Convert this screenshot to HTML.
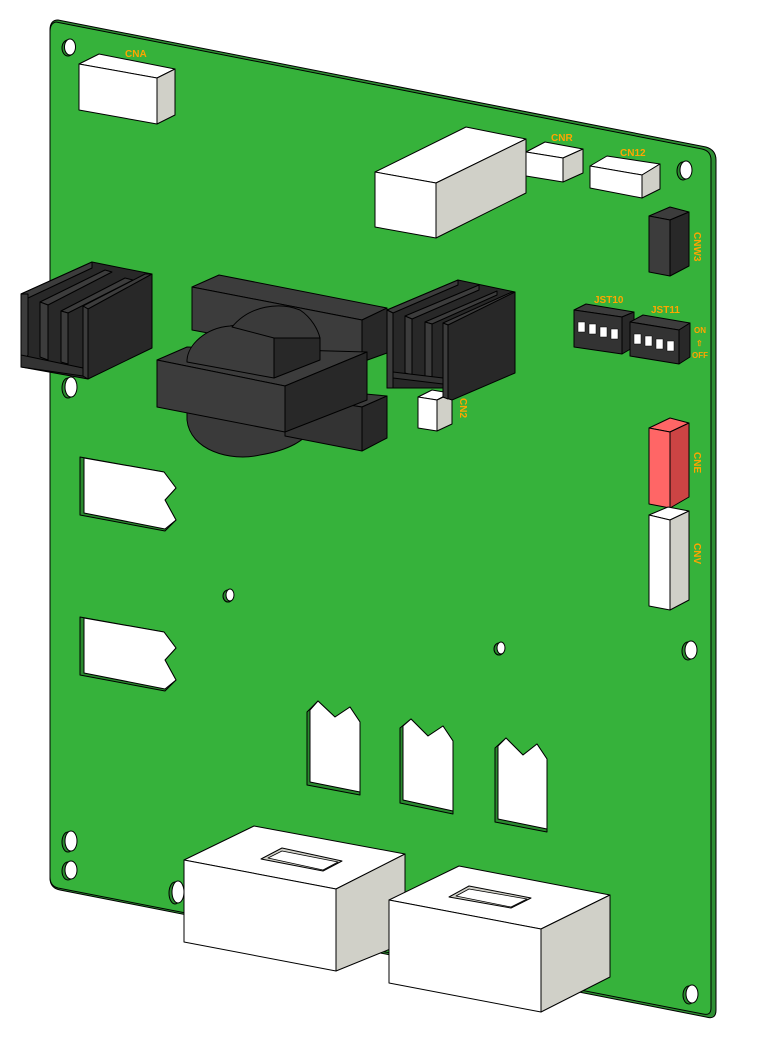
<!DOCTYPE html>
<html><head><meta charset="utf-8"><style>html,body{margin:0;padding:0;background:#fff}svg{display:block}</style></head>
<body>
<svg width="769" height="1045" viewBox="0 0 769 1045" xmlns="http://www.w3.org/2000/svg" stroke="#000" stroke-width="1" stroke-linejoin="round" font-family="Liberation Sans, sans-serif">
<!-- board -->
<path d="M58,20 L706,147 Q716,150 716,160 L716,1010 Q716,1020 706,1017 L60,890 Q50,888 50,878 L50,30 Q50,20 58,20 Z" fill="#2f8f33"/>
<path d="M56,22 L702,149 Q711,151 711,160 L711,1008 Q711,1016 703,1014 L58,888 Q50,886 50,877 L50,32 Q50,23 56,22 Z" fill="#36B23B"/>
<!-- holes -->
<g fill="#fff">
<ellipse cx="68" cy="48" rx="6" ry="8" fill="#2a8a2e"/><ellipse cx="70" cy="47" rx="5.5" ry="8"/>
<ellipse cx="68" cy="388" rx="6" ry="10" fill="#2a8a2e"/><ellipse cx="71" cy="387" rx="6" ry="10"/>
<ellipse cx="683" cy="171" rx="6" ry="9" fill="#2a8a2e"/><ellipse cx="686" cy="170" rx="6" ry="9"/>
<ellipse cx="228" cy="596" rx="5" ry="6" fill="#2a8a2e"/><ellipse cx="230" cy="595" rx="4" ry="6"/>
<ellipse cx="499" cy="649" rx="5" ry="6" fill="#2a8a2e"/><ellipse cx="501" cy="648" rx="4" ry="6"/>
<ellipse cx="688" cy="651" rx="6" ry="9" fill="#2a8a2e"/><ellipse cx="691" cy="650" rx="6" ry="9"/>
<ellipse cx="68" cy="842" rx="6" ry="10" fill="#2a8a2e"/><ellipse cx="71" cy="841" rx="6" ry="10"/>
<ellipse cx="68" cy="871" rx="6" ry="9" fill="#2a8a2e"/><ellipse cx="71" cy="870" rx="6" ry="9"/>
<ellipse cx="175" cy="893" rx="6" ry="11" fill="#2a8a2e"/><ellipse cx="178" cy="892" rx="6" ry="11"/>
<ellipse cx="689" cy="995" rx="6" ry="9" fill="#2a8a2e"/><ellipse cx="692" cy="994" rx="6" ry="9"/>
</g>
<!-- slots -->
<g fill="#fff">
<polygon points="80,457 164,472 176,488 165,500 176,520 165,531 80,515" fill="#2a8a2e"/>
<polygon points="84,458 164,472 176,488 165,500 176,520 165,529 84,513"/>
<polygon points="80,617 164,632 176,648 165,660 176,680 165,691 80,675" fill="#2a8a2e"/>
<polygon points="84,618 164,632 176,648 165,660 176,680 165,689 84,673"/>
<polygon points="307,712 318,701 335,717 350,707 360,722 360,795 307,785" fill="#2a8a2e"/>
<polygon points="310,710 318,701 335,717 350,707 360,722 360,792 310,782"/>
<polygon points="400,728 411,719 428,736 443,726 453,741 453,814 400,803" fill="#2a8a2e"/>
<polygon points="403,726 411,719 428,736 443,726 453,741 453,811 403,800"/>
<polygon points="495,748 506,738 523,755 537,744 547,759 547,832 495,822" fill="#2a8a2e"/>
<polygon points="498,746 506,738 523,755 537,744 547,759 547,829 498,819"/>
</g>
<!-- labels -->
<g fill="#FFA500" stroke="none" font-size="10" font-weight="bold">
<text x="125" y="57">CNA</text>
<text x="551" y="141">CNR</text>
<text x="620" y="156">CN12</text>
<text x="594" y="303">JST10</text>
<text x="651" y="313">JST11</text>
<text x="694" y="333" font-size="8">ON</text>
<text x="696" y="346" font-size="8">⇧</text>
<text x="692" y="358" font-size="8">OFF</text>
<text transform="translate(694,232) rotate(90)">CNW3</text>
<text transform="translate(694,452) rotate(90)">CNE</text>
<text transform="translate(694,543) rotate(90)">CNV</text>
<text transform="translate(460,398) rotate(90)">CN2</text>
</g>
<!-- white boxes -->
<g>
<polygon points="79,64 99,54 175,69 157,78" fill="#fff"/><polygon points="79,64 157,78 157,124 79,110" fill="#fff"/><polygon points="157,78 175,69 175,115 157,124" fill="#D0D0C8"/>
<polygon points="375,172 466,127 526,139 436,183" fill="#fff"/><polygon points="375,172 436,183 436,238 375,227" fill="#fff"/><polygon points="436,183 526,139 526,193 436,238" fill="#D0D0C8"/>
<polygon points="526,152 545,142 583,149 563,158" fill="#fff"/><polygon points="526,152 563,158 563,182 526,176" fill="#fff"/><polygon points="563,158 583,149 583,173 563,182" fill="#D0D0C8"/>
<polygon points="590,166 607,156 660,164 642,175" fill="#fff"/><polygon points="590,166 642,175 642,198 590,188" fill="#fff"/><polygon points="642,175 660,164 660,189 642,198" fill="#D0D0C8"/>
<polygon points="649,216 670,207 689,212 670,220" fill="#3c3c3c"/><polygon points="649,216 670,220 670,276 649,272" fill="#3c3c3c"/><polygon points="670,220 689,212 689,266 670,276" fill="#282828"/>
<polygon points="649,428 670,418 689,423 670,432" fill="#FF6666"/><polygon points="649,428 670,432 670,508 649,504" fill="#FF6666"/><polygon points="670,432 689,423 689,497 670,508" fill="#CC4444"/>
<polygon points="649,515 668,507 689,511 670,520" fill="#fff"/><polygon points="649,515 670,520 670,610 649,606" fill="#fff"/><polygon points="670,520 689,511 689,600 670,610" fill="#D0D0C8"/>
<!-- DIP switches -->
<polygon points="574,310 586,304 634,312 622,317" fill="#3c3c3c"/><polygon points="574,310 622,317 622,354 574,347" fill="#333"/><polygon points="622,317 634,312 634,347 622,354" fill="#282828"/>
<polygon points="630,322 643,315 690,323 679,330" fill="#3c3c3c"/><polygon points="630,322 679,330 679,364 630,356" fill="#333"/><polygon points="679,330 690,323 690,357 679,364" fill="#282828"/>
<g fill="#fff" stroke-width="0.5">
<rect x="578" y="322" width="7" height="10"/><rect x="589" y="324" width="7" height="10"/><rect x="600" y="327" width="7" height="10"/><rect x="611" y="329" width="7" height="10"/>
<rect x="634" y="334" width="7" height="10"/><rect x="645" y="336" width="7" height="10"/><rect x="656" y="339" width="7" height="10"/><rect x="667" y="341" width="7" height="10"/>
</g>
</g>
<!-- left heatsink -->
<g fill="#3c3c3c">
<polygon points="21,294 92,262 152,274 152,348 88,379 21,367" fill="#282828"/>
<polygon points="21,294 92,262 92,268 28,298"/>
<polygon points="40,302 105,270 112,272 48,305"/>
<polygon points="61,311 125,278 133,280 68,313"/>
<polygon points="83,306 145,274 152,274 88,309"/>
<polygon points="21,294 28,294 28,355 21,367" />
<polygon points="40,302 48,305 48,360 40,357"/>
<polygon points="61,311 68,313 68,364 61,362"/>
<polygon points="83,306 88,309 88,379 83,376"/>
<polygon points="21,355 83,368 83,376 21,367" fill="#333"/>
</g>
<!-- transformer -->
<g>
<polygon points="192,287 219,275 387,308 362,320" fill="#3c3c3c"/>
<polygon points="192,287 362,320 362,362 192,330" fill="#3c3c3c"/>
<polygon points="362,320 387,308 387,353 362,362" fill="#282828"/>
<path d="M187,420 C190,450 230,462 260,455 C290,450 305,440 310,430 L300,410 L187,400 Z" fill="#3a3a3a"/>
<polygon points="285,395 300,388 387,396 362,407" fill="#3c3c3c"/>
<polygon points="285,395 362,407 362,451 285,436" fill="#333"/>
<polygon points="362,407 387,396 387,438 362,451" fill="#282828"/>
<polygon points="157,360 187,347 367,352 285,386" fill="#3c3c3c"/>
<polygon points="157,360 285,386 285,432 157,407" fill="#3c3c3c"/>
<polygon points="285,386 367,352 367,400 285,432" fill="#282828"/>
<path d="M187,360 C188,345 205,328 230,326 C250,322 265,330 274,338 L274,378 L187,362 Z" fill="#3c3c3c"/>
<path d="M232,327 C250,305 280,302 300,310 C312,318 318,330 320,338 L274,378 L274,338 Z" fill="#3a3a3a"/>
<polygon points="274,338 320,338 320,360 274,378" fill="#282828"/>
</g>
<!-- CN2 -->
<polygon points="418,397 432,390 450,393 437,400" fill="#fff"/>
<polygon points="418,397 437,400 437,431 418,428" fill="#fff"/>
<polygon points="437,400 452,393 452,424 437,431" fill="#D0D0C8"/>
<!-- right heatsink -->
<g fill="#3c3c3c">
<polygon points="387,310 458,280 515,292 515,373 452,400 443,397 443,388 387,388" fill="#282828"/>
<polygon points="387,310 458,280 458,285 393,313"/>
<polygon points="405,316 479,285 479,290 412,319"/>
<polygon points="425,322 497,291 497,295 432,324"/>
<polygon points="443,323 512,292 515,292 448,325"/>
<polygon points="387,310 393,313 393,388 387,388"/>
<polygon points="405,316 412,319 412,375 405,373"/>
<polygon points="425,322 432,324 432,378 425,376"/>
<polygon points="443,323 448,325 448,399 443,397"/>
<polygon points="393,372 443,378 443,384 393,378" fill="#333"/>
</g>
<!-- bottom boxes -->
<g>
<polygon points="184,860 254,826 405,854 336,889" fill="#fff"/>
<polygon points="261,859 282,848 342,861 323,871" fill="#D0D0C8"/>
<polygon points="268,858 282,851 338,862 323,870" fill="#fff" stroke-width="0.8"/>
<polygon points="184,860 336,889 336,971 184,942" fill="#fff"/>
<polygon points="336,889 405,854 405,943 336,971" fill="#D0D0C8"/>
<polygon points="389,900 459,866 610,895 541,929" fill="#fff"/>
<polygon points="449,897 469,886 531,898 511,908" fill="#D0D0C8"/>
<polygon points="456,896 469,889 527,899 511,907" fill="#fff" stroke-width="0.8"/>
<polygon points="389,900 541,929 541,1012 389,983" fill="#fff"/>
<polygon points="541,929 610,895 610,977 541,1012" fill="#D0D0C8"/>
</g>
</svg>
</body></html>
